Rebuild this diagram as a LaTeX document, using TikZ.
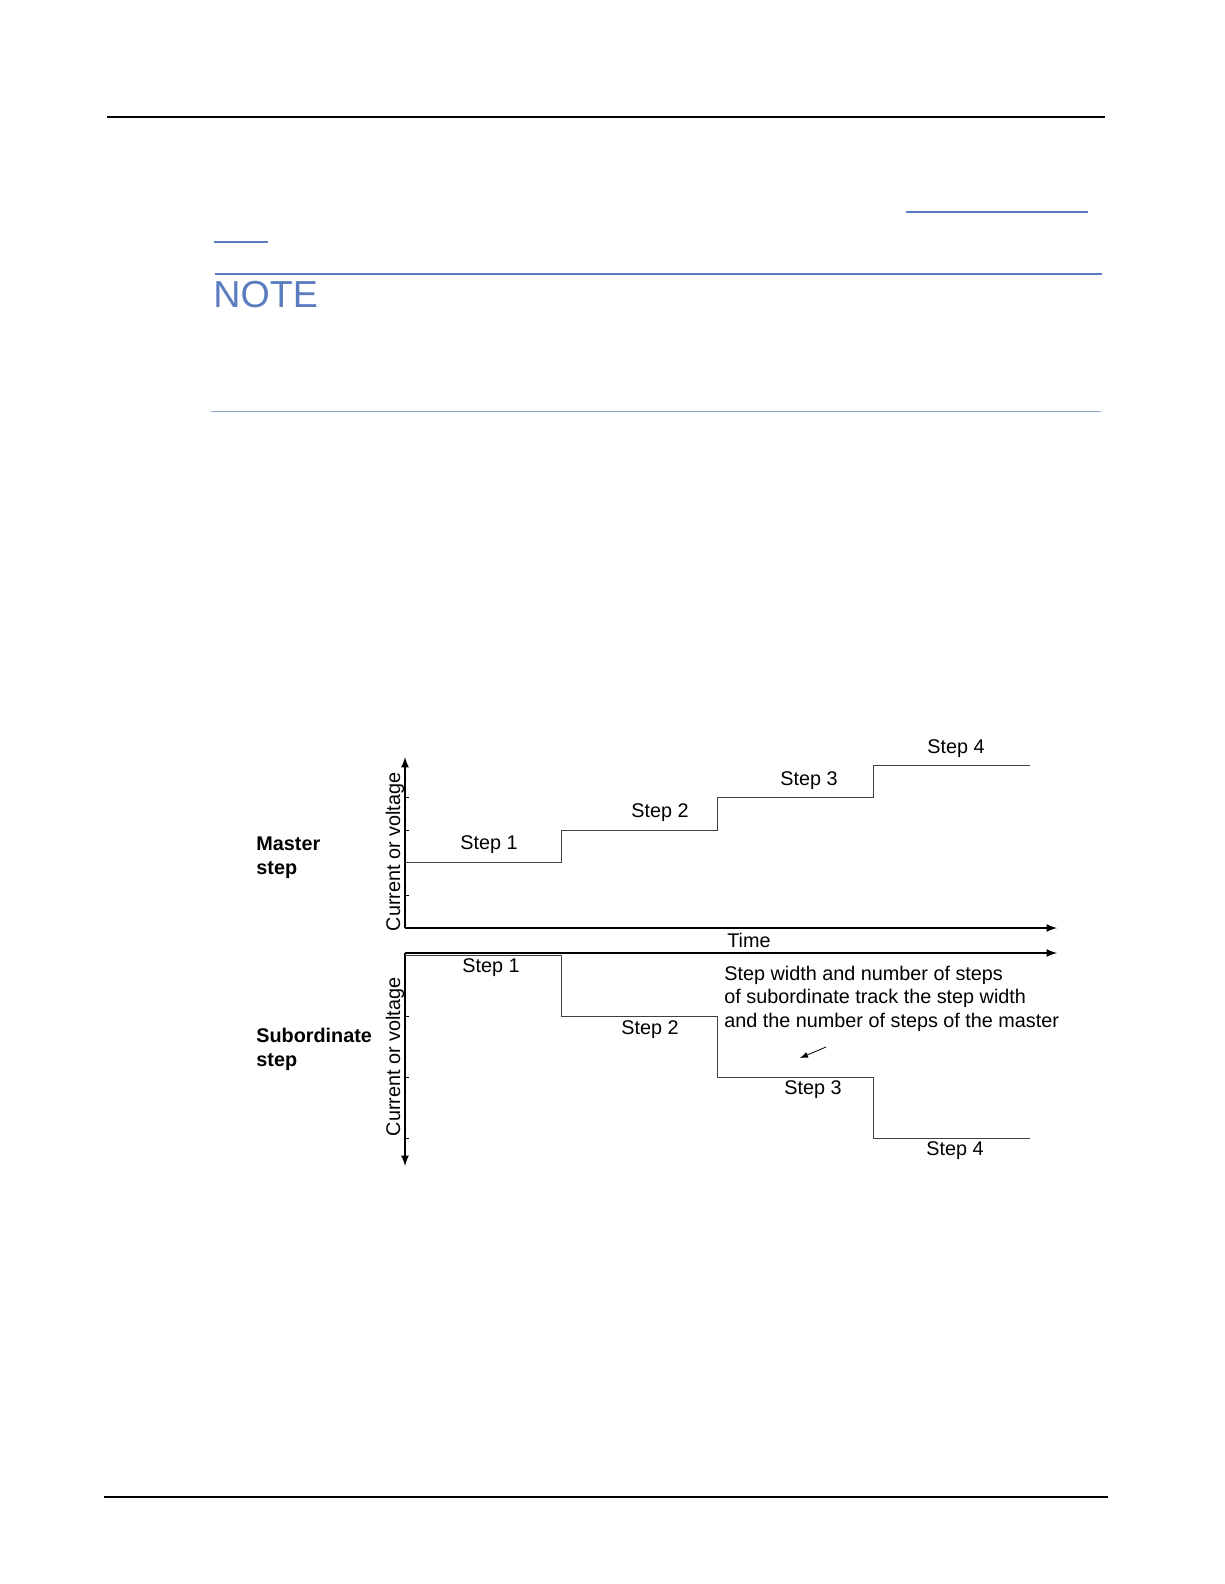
\documentclass[tikz,border=0pt]{standalone}
\usepackage{fontspec}
\setmainfont{Liberation Sans}
\begin{document}
\begin{tikzpicture}[x=0.505pt,y=-0.505pt,
  ax/.style={line width=0.8pt,-latex},
  stp/.style={line width=0.5pt,draw=black!75},
  tk/.style={line width=0.4pt},
  lbl/.style={font=\fontsize{10}{12}\selectfont,inner sep=0pt},
  blbl/.style={font=\fontsize{10}{12}\selectfont\bfseries,inner sep=0pt,align=left,anchor=west}]
\useasboundingbox (0,0) rectangle (1224,1584);
\definecolor{noteblue}{HTML}{5B7DBF}
\draw[line width=0.6pt] (107,117) -- (1105,117);
\draw[line width=0.6pt] (104,1497) -- (1108,1497);
\draw[noteblue,line width=0.6pt] (906,212) -- (1088,212);
\draw[noteblue,line width=0.6pt] (214,242) -- (268,242);
\draw[noteblue,line width=0.7pt] (215,274) -- (1102,274);
\draw[noteblue!70,line width=0.5pt] (211,411) -- (1101,411);
\node[anchor=west,inner sep=0pt,text=noteblue,font=\fontsize{19}{24}\selectfont] (note) at (213,295) {NOTE};
% master
\coordinate (o1) at (405,928);
\draw[ax] (o1) -- (405,757);
\draw[ax] (o1) -- (1057,928);
\foreach \y in {830,797,895} \draw[tk] (405,\y) -- (409,\y);
\draw[stp] (405,862) -- (561,862) -- (561,830) -- (717,830) -- (717,797) -- (873,797) -- (873,765) -- (1030,765);
\node[lbl] (m1) at (489,845) {Step 1};
\node[lbl] (m2) at (660,813) {Step 2};
\node[lbl] (m3) at (809,781) {Step 3};
\node[lbl] (m4) at (956,749) {Step 4};
\node[lbl] (time) at (749,940) {Time};
\node[lbl,rotate=90] (yl1) at (395,852) {Current or voltage};
\node[blbl] (ms) at (256,858) {Master\\step};
% subordinate
\coordinate (o2) at (405,953);
\draw[ax] (o2) -- (1057,953);
\draw[ax] (o2) -- (405,1166);
\foreach \y in {1016,1077,1138} \draw[tk] (405,\y) -- (409,\y);
\draw[stp] (405,955) -- (561,955) -- (561,1016) -- (717,1016) -- (717,1077) -- (873,1077) -- (873,1138) -- (1030,1138);
\node[lbl] (s1) at (491,968) {Step 1};
\node[lbl] (s2) at (650,1030) {Step 2};
\node[lbl] (s3) at (813,1090) {Step 3};
\node[lbl] (s4) at (955,1151) {Step 4};
\node[lbl,rotate=90] (yl2) at (395,1057) {Current or voltage};
\node[blbl] (ss) at (256,1049) {Subordinate\\step};
\node[lbl,anchor=north west,align=left,font=\fontsize{10}{11.7}\selectfont] (txt) at (724,966) {Step width and number of steps\\of subordinate track the step width\\and the number of steps of the master};
\coordinate (a1) at (826,1047);
\coordinate (a2) at (800,1058);
\draw[line width=0.4pt,-latex] (a1) -- (a2);
\end{tikzpicture}
\end{document}
